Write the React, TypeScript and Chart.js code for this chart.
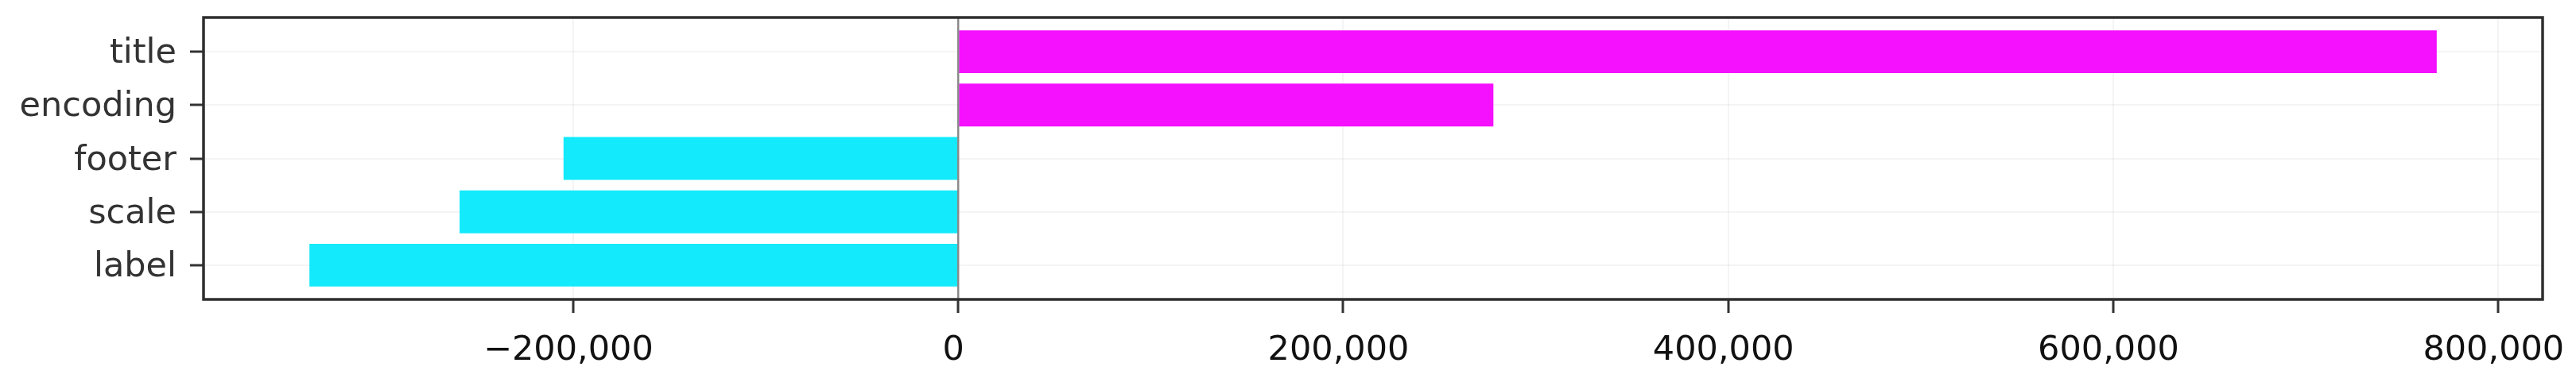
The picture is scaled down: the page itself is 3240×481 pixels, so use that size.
import React, { useEffect, useRef } from "react";
import { Chart, registerables } from "chart.js";

Chart.register(...registerables);

// Top-to-bottom order as shown
const categories: string[] = ["title", "encoding", "footer", "scale", "label"];
const values: number[] = [768000, 278000, -205000, -259000, -337000];
const xTickValues: number[] = [-200000, 0, 200000, 400000, 600000, 800000];

const POS_COLOR = "#f510fe";
const NEG_COLOR = "#13eafb";
const FONT = "'DejaVu Sans', sans-serif";

const fmt = (v: number) => {
  const s = Math.abs(v).toLocaleString("en-US");
  return v < 0 ? "\u2212" + s : s;
};

export default function App() {
  const ref = useRef<HTMLCanvasElement | null>(null);

  useEffect(() => {
    if (!ref.current) return;

    const framePlugin = {
      id: "frameAndZero",
      afterDatasetsDraw(chart: any) {
        const { ctx, chartArea, scales } = chart;
        const x0 = scales.x.getPixelForValue(0);
        ctx.save();
        ctx.strokeStyle = "#8a8a8a";
        ctx.lineWidth = 2.5;
        ctx.beginPath();
        ctx.moveTo(x0, chartArea.top);
        ctx.lineTo(x0, chartArea.bottom);
        ctx.stroke();
        ctx.restore();
      },
      afterDraw(chart: any) {
        const { ctx, chartArea } = chart;
        ctx.save();
        ctx.strokeStyle = "#2e2e2e";
        ctx.lineWidth = 3.5;
        ctx.strokeRect(
          chartArea.left,
          chartArea.top,
          chartArea.right - chartArea.left,
          chartArea.bottom - chartArea.top
        );
        ctx.restore();
      },
    };

    const chart = new Chart(ref.current, {
      type: "bar",
      data: {
        datasets: [
          {
            data: values.map((v, i) => ({ x: v, y: i })),
            backgroundColor: values.map((v) => (v >= 0 ? POS_COLOR : NEG_COLOR)),
            borderWidth: 0,
            categoryPercentage: 1,
            barPercentage: 0.8,
          },
        ],
      },
      options: {
        indexAxis: "y",
        animation: false,
        responsive: false,
        layout: { padding: { top: 22, right: 42, left: 0, bottom: 0 } },
        plugins: {
          legend: { display: false },
          tooltip: { enabled: false },
        },
        scales: {
          x: {
            type: "linear",
            min: -392000,
            max: 823000,
            offset: false,
            afterFit: (s: any) => {
              s.height = 104;
              s.paddingLeft = 0;
              s.paddingRight = 0;
            },
            afterBuildTicks: (s: any) => {
              s.ticks = xTickValues.map((v) => ({ value: v }));
            },
            ticks: {
              includeBounds: false,
              autoSkip: false,
              maxRotation: 0,
              padding: 22,
              labelOffset: -6,
              color: "#111",
              font: { family: FONT, size: 43 },
              callback: (v: any) => fmt(Number(v)),
            },
            grid: {
              offset: false,
              color: "rgba(0,0,0,0.045)",
              lineWidth: 2,
              drawTicks: true,
              tickLength: 17,
              tickColor: "#333",
              tickWidth: 3,
            },
            border: { display: false },
          },
          y: {
            type: "linear",
            min: -0.64,
            max: 4.64,
            reverse: true,
            offset: false,
            afterFit: (s: any) => {
              s.width = 256;
              s.paddingTop = 0;
              s.paddingBottom = 0;
            },
            afterBuildTicks: (s: any) => {
              s.ticks = categories.map((_, i) => ({ value: i }));
            },
            ticks: {
              includeBounds: false,
              autoSkip: false,
              stepSize: 1,
              padding: 17,
              labelOffset: 3,
              color: "#333",
              font: { family: FONT, size: 43 },
              callback: (v: any) => {
                const n = Number(v);
                return Number.isInteger(n) ? categories[n] ?? "" : "";
              },
            },
            grid: {
              offset: false,
              color: "rgba(0,0,0,0.045)",
              lineWidth: 2,
              drawTicks: true,
              tickLength: 17,
              tickColor: "#333",
              tickWidth: 3,
            },
            border: { display: false },
          },
        },
      } as any,
      plugins: [framePlugin],
    });

    return () => chart.destroy();
  }, []);

  return (
    <div style={{ position: "absolute", left: 0, top: 0, width: 3240, height: 481, background: "#fff" }}>
      <canvas ref={ref} width={3240} height={481} style={{ display: "block", width: 3240, height: 481 }} />
    </div>
  );
}
